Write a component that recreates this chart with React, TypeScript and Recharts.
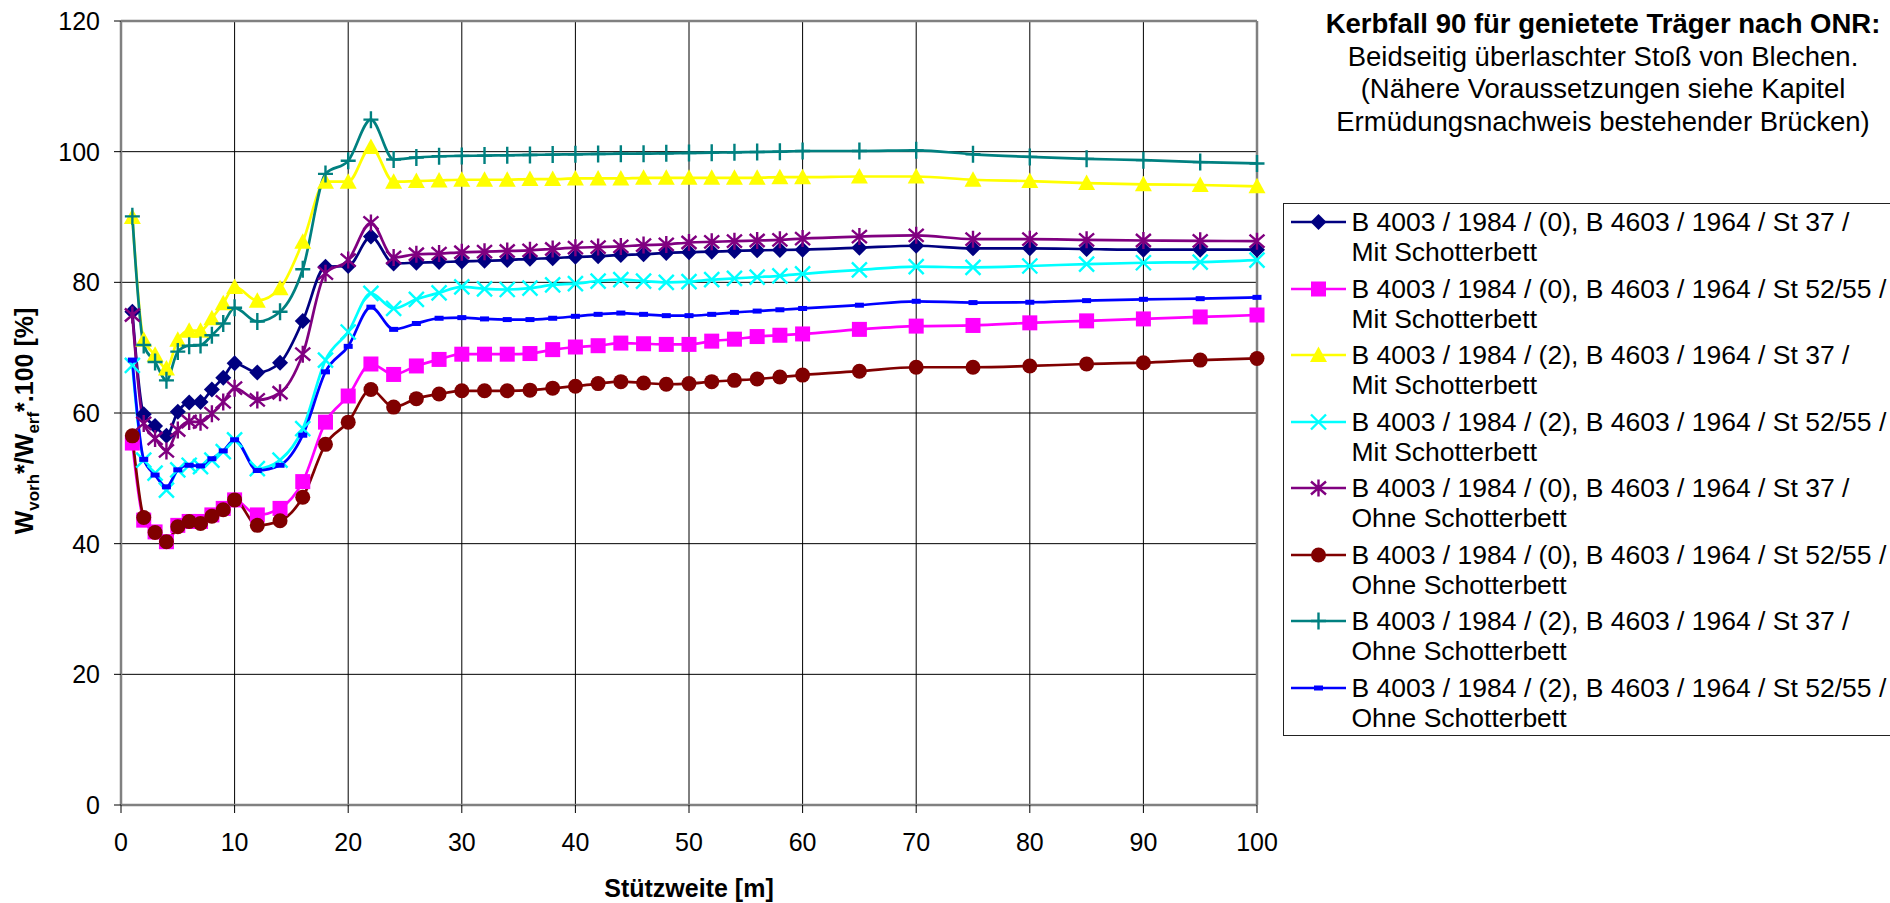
import { CartesianGrid, Legend, Line, LineChart, ReferenceLine, XAxis, YAxis } from 'recharts';

// Stützweite [m]
const spans = [
  1, 2, 3, 4, 5, 6, 7, 8, 9, 10, 12, 14, 16, 18, 20, 22, 24, 26, 28, 30, 32, 34, 36, 38, 40, 42, 44, 46, 48, 50,
  52, 54, 56, 58, 60, 65, 70, 75, 80, 85, 90, 95, 100,
];
const xTicks = [0, 10, 20, 30, 40, 50, 60, 70, 80, 90, 100];
const yTicks = [0, 20, 40, 60, 80, 100, 120];

// W_vorh*/W_erf*.100 [%]
const st37Mit0 = [
  75.5, 59.8, 58.0, 56.5, 60.2, 61.6, 61.7, 63.6, 65.4, 67.6, 66.2, 67.7, 74.1, 82.4, 82.5, 87.0, 82.9, 83.0, 83.1, 83.2,
  83.3, 83.4, 83.6, 83.7, 83.9, 84.0, 84.2, 84.3, 84.5, 84.6, 84.7, 84.8, 84.9, 84.95, 85.0, 85.3, 85.6, 85.2, 85.2, 85.1,
  85.0, 85.0, 85.0,
];
const st52Mit0 = [
  55.4, 43.6, 41.8, 40.3, 42.8, 43.4, 43.4, 44.4, 45.4, 46.7, 44.4, 45.4, 49.5, 58.6, 62.6, 67.5, 65.9, 67.2, 68.2, 69.0,
  69.0, 69.0, 69.1, 69.7, 70.1, 70.3, 70.7, 70.6, 70.5, 70.5, 71.0, 71.3, 71.7, 71.9, 72.1, 72.8, 73.3, 73.4, 73.8, 74.1,
  74.4, 74.7, 75.0,
];
const st37Mit2 = [
  90.0, 71.2, 68.9, 66.8, 71.2, 72.6, 72.6, 74.5, 76.8, 79.3, 77.2, 79.1, 86.2, 95.4, 95.4, 100.7, 95.4, 95.5, 95.6, 95.7,
  95.7, 95.7, 95.8, 95.8, 95.9, 95.9, 95.9, 96.0, 96.0, 96.0, 96.0, 96.0, 96.0, 96.1, 96.1, 96.2, 96.2, 95.7, 95.5, 95.2,
  95.0, 94.9, 94.7,
];
const st52Mit2 = [
  67.3, 52.8, 50.8, 48.2, 51.3, 52.0, 51.8, 52.8, 54.1, 55.9, 51.5, 52.8, 57.6, 68.1, 72.4, 78.3, 76.0, 77.4, 78.4, 79.3,
  79.0, 78.9, 79.1, 79.6, 79.8, 80.2, 80.4, 80.2, 80.0, 80.1, 80.4, 80.6, 80.8, 81.0, 81.3, 81.9, 82.4, 82.3, 82.5, 82.8,
  83.0, 83.1, 83.4,
];
const st37Ohne0 = [
  75.0, 58.4, 56.1, 54.2, 57.4, 58.7, 58.6, 59.9, 61.7, 63.8, 62.0, 63.1, 69.0, 81.4, 83.4, 89.1, 83.8, 84.3, 84.4, 84.6,
  84.7, 84.8, 84.9, 85.1, 85.3, 85.4, 85.5, 85.7, 85.8, 86.1, 86.2, 86.3, 86.4, 86.5, 86.7, 87.0, 87.2, 86.6, 86.6, 86.5,
  86.4, 86.35, 86.3,
];
const st52Ohne0 = [
  56.5, 44.0, 41.7, 40.3, 42.6, 43.4, 43.1, 44.2, 45.2, 46.7, 42.8, 43.5, 47.1, 55.2, 58.6, 63.6, 60.9, 62.2, 62.9, 63.4,
  63.4, 63.4, 63.5, 63.8, 64.1, 64.5, 64.8, 64.6, 64.4, 64.5, 64.8, 65.0, 65.2, 65.5, 65.8, 66.4, 67.0, 67.0, 67.2, 67.5,
  67.7, 68.1, 68.35,
];
const st37Ohne2 = [
  90.1, 70.4, 67.8, 65.0, 69.4, 70.3, 70.4, 71.9, 73.7, 76.1, 74.0, 75.5, 82.0, 96.6, 98.6, 104.9, 98.8, 99.1, 99.3,
  99.35, 99.4, 99.45, 99.5, 99.55, 99.6, 99.65, 99.7, 99.7, 99.75, 99.8, 99.85, 99.9, 99.95, 100.0, 100.1, 100.1, 100.2,
  99.6, 99.2, 98.9, 98.7, 98.4, 98.2,
];
const st52Ohne2 = [
  68.1, 52.9, 50.5, 48.7, 51.3, 52.0, 51.9, 53.0, 54.2, 55.9, 51.2, 52.0, 56.6, 66.3, 70.2, 76.2, 72.8, 73.7, 74.5, 74.6,
  74.4, 74.3, 74.3, 74.5, 74.8, 75.1, 75.3, 75.1, 74.9, 74.9, 75.1, 75.4, 75.6, 75.8, 76.0, 76.5, 77.1, 76.9, 76.95, 77.2,
  77.4, 77.5, 77.7,
];

const titleLines = [
  'Kerbfall 90 für genietete Träger nach ONR:',
  'Beidseitig überlaschter Stoß von Blechen.',
  '(Nähere Voraussetzungen siehe Kapitel',
  'Ermüdungsnachweis bestehender Brücken)',
];

const series = [
  { key: 'st37Mit0', values: st37Mit0, label: 'B 4003 / 1984 / (0), B 4603 / 1964 / St 37 /', sub: 'Mit Schotterbett', color: '#000080', shape: 'diamond' },
  { key: 'st52Mit0', values: st52Mit0, label: 'B 4003 / 1984 / (0), B 4603 / 1964 / St 52/55 /', sub: 'Mit Schotterbett', color: '#ff00ff', shape: 'square' },
  { key: 'st37Mit2', values: st37Mit2, label: 'B 4003 / 1984 / (2), B 4603 / 1964 / St 37 /', sub: 'Mit Schotterbett', color: '#ffff00', shape: 'triangle' },
  { key: 'st52Mit2', values: st52Mit2, label: 'B 4003 / 1984 / (2), B 4603 / 1964 / St 52/55 /', sub: 'Mit Schotterbett', color: '#00ffff', shape: 'x' },
  { key: 'st37Ohne0', values: st37Ohne0, label: 'B 4003 / 1984 / (0), B 4603 / 1964 / St 37 /', sub: 'Ohne Schotterbett', color: '#800080', shape: 'star' },
  { key: 'st52Ohne0', values: st52Ohne0, label: 'B 4003 / 1984 / (0), B 4603 / 1964 / St 52/55 /', sub: 'Ohne Schotterbett', color: '#800000', shape: 'circle' },
  { key: 'st37Ohne2', values: st37Ohne2, label: 'B 4003 / 1984 / (2), B 4603 / 1964 / St 37 /', sub: 'Ohne Schotterbett', color: '#008080', shape: 'plus' },
  { key: 'st52Ohne2', values: st52Ohne2, label: 'B 4003 / 1984 / (2), B 4603 / 1964 / St 52/55 /', sub: 'Ohne Schotterbett', color: '#0000ff', shape: 'dash' },
];

const data = spans.map((span, i) => {
  const row: Record<string, number> = { span };
  series.forEach((s) => {
    row[s.key] = s.values[i];
  });
  return row;
});

const FONT = "'Liberation Sans', Arial, sans-serif";

function Marker({ shape, color, cx, cy }: { shape: string; color: string; cx: number; cy: number }) {
  switch (shape) {
    case 'diamond':
      return <path d={`M${cx},${cy - 8}L${cx + 8},${cy}L${cx},${cy + 8}L${cx - 8},${cy}Z`} fill={color} />;
    case 'square':
      return <rect x={cx - 7.5} y={cy - 7.5} width={15} height={15} fill={color} />;
    case 'triangle':
      return <path d={`M${cx},${cy - 8.5}L${cx + 8.5},${cy + 7}L${cx - 8.5},${cy + 7}Z`} fill={color} />;
    case 'x':
      return (
        <path d={`M${cx - 7.5},${cy - 7.5}L${cx + 7.5},${cy + 7.5}M${cx - 7.5},${cy + 7.5}L${cx + 7.5},${cy - 7.5}`} stroke={color} strokeWidth={2.4} fill="none" />
      );
    case 'star':
      return (
        <path
          d={`M${cx - 7.5},${cy - 6.5}L${cx + 7.5},${cy + 6.5}M${cx - 7.5},${cy + 6.5}L${cx + 7.5},${cy - 6.5}M${cx},${cy - 8.5}L${cx},${cy + 8.5}`}
          stroke={color}
          strokeWidth={2.4}
          fill="none"
        />
      );
    case 'circle':
      return <circle cx={cx} cy={cy} r={7.5} fill={color} />;
    case 'plus':
      return <path d={`M${cx},${cy - 8.5}L${cx},${cy + 8.5}M${cx - 7.5},${cy}L${cx + 7.5},${cy}`} stroke={color} strokeWidth={2.4} fill="none" />;
    default:
      return <rect x={cx - 4.5} y={cy - 2.5} width={9} height={5} fill={color} />;
  }
}

const makeDot = (shape: string, color: string) => (props: any) => {
  if (props.cx == null || props.cy == null) return <g key={`e-${props.index}`} />;
  return (
    <g key={`m-${props.index}`}>
      <Marker shape={shape} color={color} cx={props.cx} cy={props.cy} />
    </g>
  );
};

const YTick = (props: any) => (
  <text x={100} y={props.y} dy="0.355em" textAnchor="end" fontSize={25} fontFamily={FONT} fill="#000">
    {props.payload.value}
  </text>
);

function YLabel() {
  return (
    <text
      x={33}
      y={421}
      transform="rotate(-90, 33, 421)"
      textAnchor="middle"
      fontFamily={FONT}
      fontWeight="bold"
      fontSize={25}
      fill="#000"
    >
      W
      <tspan dy={6} fontSize={17}>vorh</tspan>
      <tspan dy={-6}>*/W</tspan>
      <tspan dy={6} fontSize={17}>erf</tspan>
      <tspan dy={-6}>*.100 [%]</tspan>
    </text>
  );
}

function ChartLegend() {
  return (
    <div style={{ position: 'relative', width: 607, height: 903, fontFamily: FONT, color: '#000' }}>
      <div
        style={{
          position: 'absolute',
          left: 20,
          top: 8,
          width: 600,
          textAlign: 'center',
          fontSize: 27.5,
          lineHeight: '32.5px',
          whiteSpace: 'nowrap',
        }}
      >
        {titleLines.map((t, i) => (
          <div key={t} style={{ fontWeight: i === 0 ? 'bold' : 'normal' }}>
            {t}
          </div>
        ))}
      </div>
      <div
        style={{
          position: 'absolute',
          left: 0,
          top: 203,
          width: 640,
          height: 533,
          boxSizing: 'border-box',
          border: '1.5px solid #222',
          paddingTop: 3,
          background: '#fff',
        }}
      >
        {series.map((s) => (
          <div key={s.key} style={{ display: 'flex', height: 60, marginBottom: 6.5 }}>
            <svg width={67.5} height={30} style={{ flex: 'none' }}>
              <line x1={7} x2={62} y1={15} y2={15} stroke={s.color} strokeWidth={2.7} />
              <Marker shape={s.shape} color={s.color} cx={34.5} cy={15} />
            </svg>
            <div style={{ fontSize: 26.5, lineHeight: '30px', whiteSpace: 'nowrap' }}>
              <div>{s.label}</div>
              <div>{s.sub}</div>
            </div>
          </div>
        ))}
      </div>
    </div>
  );
}

export default function App() {
  return (
    <div
      style={{
        position: 'absolute',
        left: 0,
        top: 0,
        width: 1890,
        height: 903,
        overflow: 'hidden',
        background: '#fff',
        fontFamily: FONT,
      }}
    >
      <LineChart width={1890} height={903} data={data} margin={{ top: 21, right: 633, left: 0, bottom: 0 }}>
        <CartesianGrid stroke="#000" strokeWidth={1} />
        <XAxis
          dataKey="span"
          type="number"
          domain={[0, 100]}
          ticks={xTicks}
          height={98}
          tickSize={8}
          tickMargin={20}
          tick={{ fontSize: 25, fill: '#000', fontFamily: FONT }}
          tickLine={{ stroke: '#000' }}
          axisLine={{ stroke: '#808080', strokeWidth: 2.5 }}
          label={{
            value: 'Stützweite [m]',
            position: 'insideBottom',
            offset: 6,
            style: { fontSize: 25, fontWeight: 'bold', fill: '#000', fontFamily: FONT },
          }}
        />
        <YAxis
          type="number"
          domain={[0, 120]}
          ticks={yTicks}
          width={121}
          tickSize={7}
          tick={<YTick />}
          tickLine={{ stroke: '#000' }}
          axisLine={{ stroke: '#808080', strokeWidth: 2.5 }}
          label={<YLabel />}
        />
        <ReferenceLine y={120} stroke="#808080" strokeWidth={2.5} />
        <ReferenceLine x={100} stroke="#808080" strokeWidth={2.5} />
        <Legend
          layout="vertical"
          align="center"
          verticalAlign="middle"
          content={<ChartLegend />}
          wrapperStyle={{ left: 1283, top: 0, width: 607, height: 903, pointerEvents: 'none' }}
        />
        {series.map((s) => (
          <Line
            key={s.key}
            type="monotone"
            dataKey={s.key}
            name={`${s.label} ${s.sub}`}
            stroke={s.color}
            strokeWidth={2.7}
            dot={makeDot(s.shape, s.color)}
            activeDot={false}
            isAnimationActive={false}
          />
        ))}
      </LineChart>
    </div>
  );
}
